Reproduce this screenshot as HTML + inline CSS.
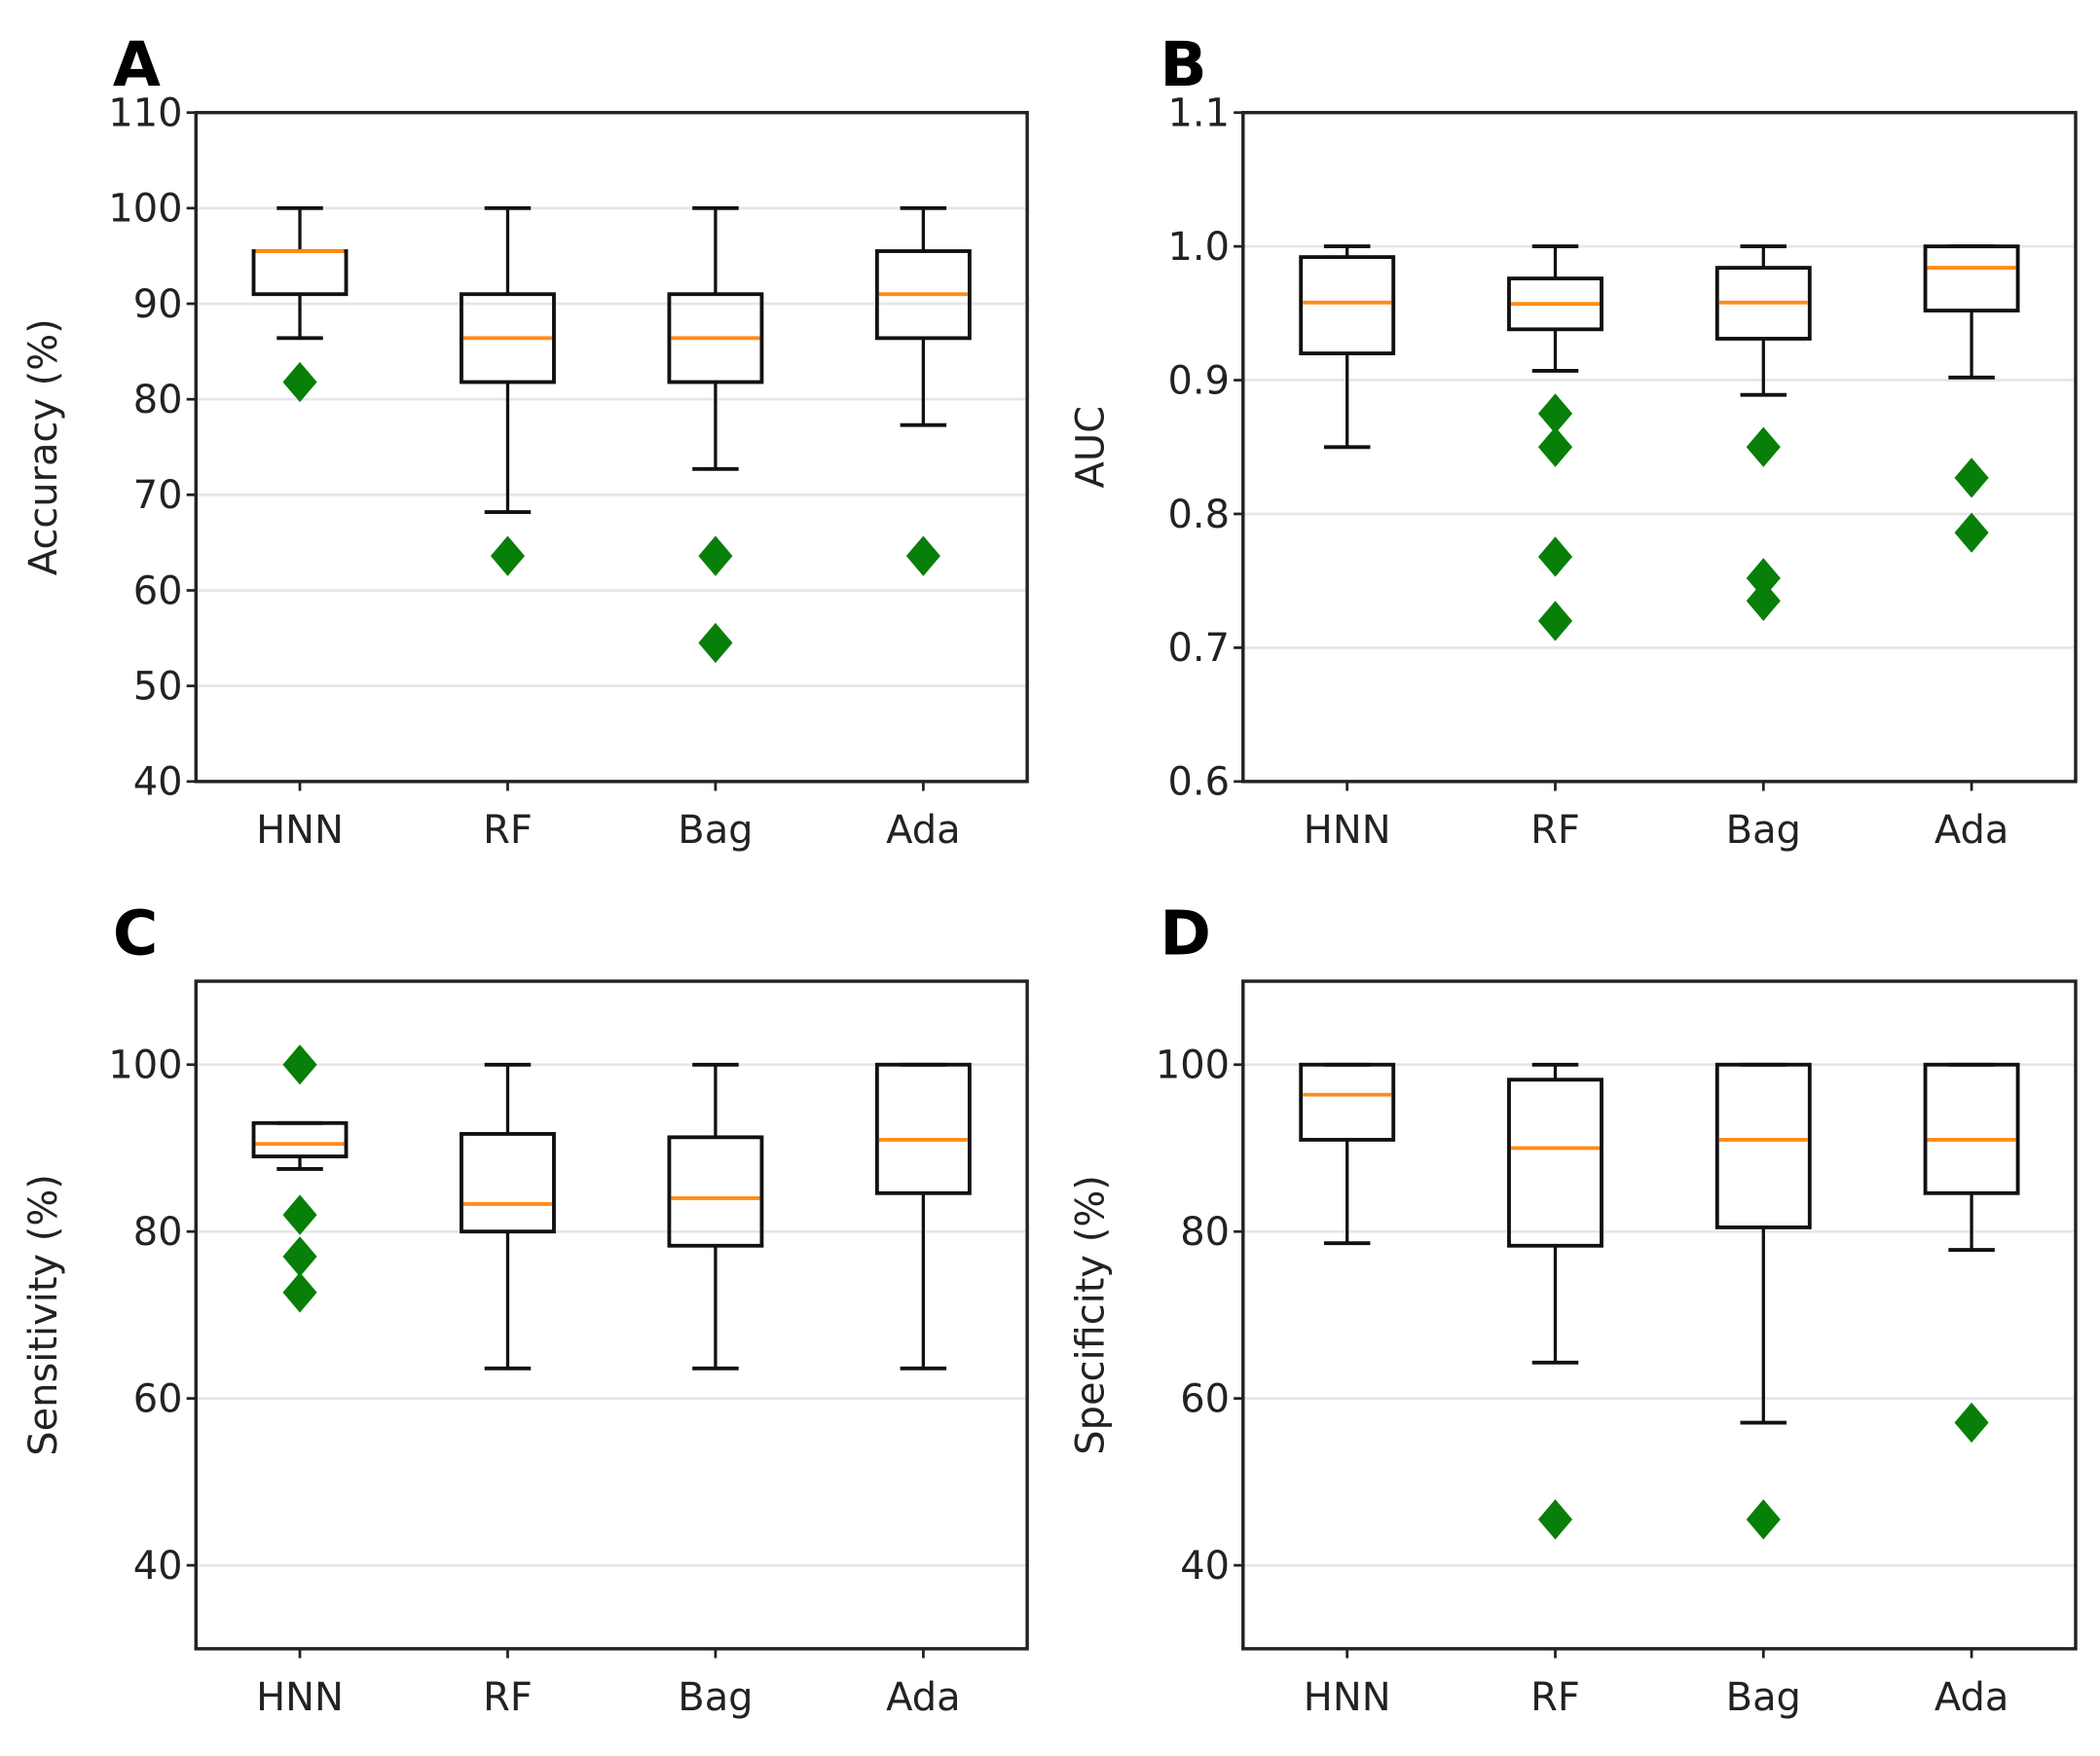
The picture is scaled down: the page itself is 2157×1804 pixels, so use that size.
<!DOCTYPE html>
<html><head><meta charset="utf-8"><style>
html,body{margin:0;padding:0;background:#fff}
svg{display:block}
text{font-family:"DejaVu Sans","Liberation Sans",sans-serif;fill:#222}
</style></head><body>
<svg id="fig" width="2157" height="1804" viewBox="0 0 1566 1310" xmlns="http://www.w3.org/2000/svg"></svg>
<script>
const categories = ["HNN","RF","Bag","Ada"];
// [whisker low, q1, median, q3, whisker high]
const accStats = [[86.4,91,95.5,95.5,100],[68.2,81.8,86.4,91,100],[72.7,81.8,86.4,91,100],[77.3,86.4,91,95.5,100]];
const accFliers = [[81.8],[63.6],[63.6,54.5],[63.6]];
const accTicks = [40,50,60,70,80,90,100,110];
const aucStats = [[0.85,0.92,0.958,0.992,1.0],[0.907,0.938,0.957,0.976,1.0],[0.889,0.931,0.958,0.984,1.0],[0.902,0.952,0.984,1.0,1.0]];
const aucFliers = [[],[0.875,0.85,0.768,0.72],[0.85,0.752,0.735],[0.827,0.786]];
const aucTicks = [0.6,0.7,0.8,0.9,1.0,1.1];
const senStats = [[87.5,89,90.5,93,93],[63.6,80,83.3,91.7,100],[63.6,78.3,84,91.3,100],[63.6,84.6,91,100,100]];
const senFliers = [[100,82,77,72.7],[],[],[]];
const senTicks = [40,60,80,100];
const speStats = [[78.6,91,96.4,100,100],[64.3,78.3,90,98.2,100],[57.1,80.5,91,100,100],[77.8,84.6,91,100,100]];
const speFliers = [[],[45.5],[45.5],[57.1]];
const speTicks = [40,60,80,100];

const NS = "http://www.w3.org/2000/svg";
const fig = document.getElementById("fig");
function mk(tag, attrs, parent, txt){
  const e = document.createElementNS(NS, tag);
  for (const k in attrs) e.setAttribute(k, attrs[k]);
  if (txt !== undefined) e.textContent = txt;
  (parent||fig).appendChild(e);
  return e;
}
function panel(opt){
  const g = mk("g", {});
  
  
  const L=opt.x0, R=opt.x1, T=opt.y0, B=opt.y1;
  const yS = v => B - (v - opt.min) / (opt.max - opt.min) * (B - T);
  const xS = i => L + (i + 0.5) * (R - L) / categories.length;
  const bw = 69;
  opt.ticks.forEach(t => {
    const y = yS(t);
    if (y > T + 1 && y < B - 1) {
      const gl = mk("line", {x1:L, x2:R, y1:y, y2:y, stroke:"#e6e6e6", "stroke-width":2}, g);
      
      
    }
    const tk = mk("line", {x1:L-7, x2:L, y1:y, y2:y, stroke:"#222", "stroke-width":2}, g);
    
    
    const tl = mk("text", {x:L-10, y:y+10, "text-anchor":"end", "font-size":29}, g, opt.fmt(t));
    
    
  });
  categories.forEach((c, i) => {
    const x = xS(i), s = opt.stats[i];
    const tk = mk("line", {x1:x, x2:x, y1:B, y2:B+7, stroke:"#222", "stroke-width":2}, g);
    
    
    const tl = mk("text", {x:x, y:B+46, "text-anchor":"middle", "font-size":29}, g, c);
    
    
    const wl = mk("line", {x1:x, x2:x, y1:yS(s[0]), y2:yS(s[1]), stroke:"#111", "stroke-width":2.4}, g);
    
    
    const wh = mk("line", {x1:x, x2:x, y1:yS(s[3]), y2:yS(s[4]), stroke:"#111", "stroke-width":2.4}, g);
    
    
    [s[0], s[4]].forEach(v => {
      const cap = mk("line", {x1:x-bw/4, x2:x+bw/4, y1:yS(v), y2:yS(v), stroke:"#111", "stroke-width":2.8}, g);
      
      
    });
    const box = mk("rect", {x:x-bw/2, y:yS(s[3]), width:bw, height:Math.max(0.5, yS(s[1])-yS(s[3])), fill:"none", stroke:"#111", "stroke-width":2.8}, g);
    
    
    const med = mk("line", {x1:x-bw/2+1.5, x2:x+bw/2-1.5, y1:yS(s[2]), y2:yS(s[2]), stroke:"#ff8c1a", "stroke-width":2.8}, g);
    
    
    opt.fliers[i].forEach(v => {
      const y = yS(v), r = 15;
      const d = mk("polygon", {points:`${x},${y-r} ${x+r*0.85},${y} ${x},${y+r} ${x-r*0.85},${y}`, fill:"#087f08"}, g);
      
      
    });
  });
  const fr = mk("rect", {x:L, y:T, width:R-L, height:B-T, fill:"none", stroke:"#222", "stroke-width":2.5}, g);
  
  
  const yl = mk("text", {x:0, y:0, "text-anchor":"middle", "font-size":29, transform:`translate(${L-104},${(T+B)/2}) rotate(-90)`}, g, opt.ylabel);
  
  
  const pl = mk("text", {x:L-62, y:T-20, "font-size":46, "font-weight":"bold", style:"fill:#000"}, g, opt.letter);
  
  
}
const i0 = v => String(v);
const f1 = v => v.toFixed(1);
panel({letter:"A", x0:146, x1:766, y0:84, y1:583, min:40, max:110, ticks:accTicks, fmt:i0, stats:accStats, fliers:accFliers, ylabel:"Accuracy (%)"});
panel({letter:"B", x0:927, x1:1548, y0:84, y1:583, min:0.6, max:1.1, ticks:aucTicks, fmt:f1, stats:aucStats, fliers:aucFliers, ylabel:"AUC"});
panel({letter:"C", x0:146, x1:766, y0:732, y1:1230, min:30, max:110, ticks:senTicks, fmt:i0, stats:senStats, fliers:senFliers, ylabel:"Sensitivity (%)"});
panel({letter:"D", x0:927, x1:1548, y0:732, y1:1230, min:30, max:110, ticks:speTicks, fmt:i0, stats:speStats, fliers:speFliers, ylabel:"Specificity (%)"});
</script>
</body></html>
